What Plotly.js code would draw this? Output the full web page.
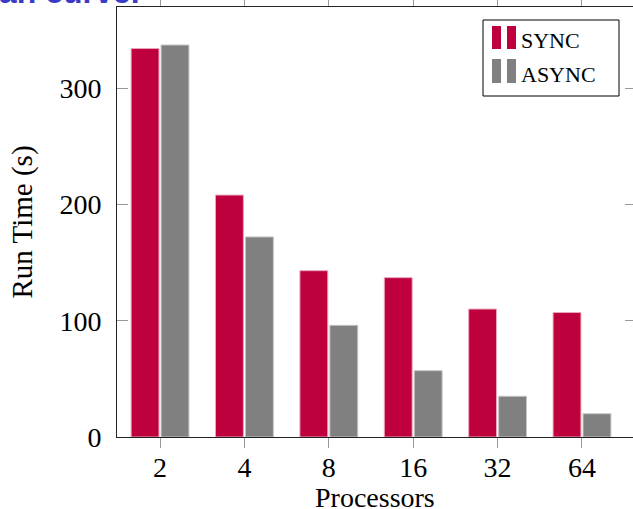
<!DOCTYPE html>
<html>
<head>
<meta charset="utf-8">
<script src="https://cdn.plot.ly/plotly-3.0.1.min.js"></script>
<style>
html,body{margin:0;padding:0;overflow:hidden;background:#fff;}
#chart{width:636px;height:509px;}
</style>
</head>
<body>
<div id="chart"></div>
<script>
const processors = ['2', '4', '8', '16', '32', '64'];
const syncTimes = [334, 208, 143, 137, 110, 107];
const asyncTimes = [337, 172, 96, 57, 35, 20];
const seriesNames = ['SYNC', 'ASYNC'];
const yTicks = [0, 100, 200, 300];
const xTitle = 'Processors';
const yTitle = 'Run Time (s)';

const RED = '#be003c';
const GRAY = '#808080';
const SERIF = '"Liberation Serif", "Times New Roman", serif';

const traces = [
  {type: 'bar', name: seriesNames[0], x: processors, y: syncTimes,
   marker: {color: RED, line: {color: '#eaa6bb', width: 1}}},
  {type: 'bar', name: seriesNames[1], x: processors, y: asyncTimes,
   marker: {color: GRAY, line: {color: '#c4c4c4', width: 1}}}
];

// legend drawn with shapes + annotations (paper coordinates)
const px = v => (v - 117) / 519;
const py = v => (437 - v) / 430;
const shapes = [
  {type: 'rect', xref: 'paper', yref: 'paper', x0: px(483), x1: px(619), y0: py(96), y1: py(20),
   line: {color: '#000', width: 1}, fillcolor: '#fff', layer: 'above'},
  {type: 'rect', xref: 'paper', yref: 'paper', x0: px(492), x1: px(501), y0: py(49), y1: py(26),
   line: {width: 0}, fillcolor: RED, layer: 'above'},
  {type: 'rect', xref: 'paper', yref: 'paper', x0: px(507), x1: px(516), y0: py(49), y1: py(26),
   line: {width: 0}, fillcolor: RED, layer: 'above'},
  {type: 'rect', xref: 'paper', yref: 'paper', x0: px(492), x1: px(501), y0: py(83), y1: py(59),
   line: {width: 0}, fillcolor: GRAY, layer: 'above'},
  {type: 'rect', xref: 'paper', yref: 'paper', x0: px(507), x1: px(516), y0: py(83), y1: py(59),
   line: {width: 0}, fillcolor: GRAY, layer: 'above'}
];

const annotations = [
  {xref: 'paper', yref: 'paper', x: px(519), y: py(40), xanchor: 'left', yanchor: 'middle',
   text: seriesNames[0], showarrow: false, font: {family: SERIF, size: 22, color: '#000'}},
  {xref: 'paper', yref: 'paper', x: px(519), y: py(74), xanchor: 'left', yanchor: 'middle',
   text: seriesNames[1], showarrow: false, font: {family: SERIF, size: 22, color: '#000'}},
  {xref: 'paper', yref: 'paper', x: px(375), y: py(480), xanchor: 'center', yanchor: 'top',
   text: xTitle, showarrow: false, font: {family: SERIF, size: 28, color: '#000'}},
  {xref: 'paper', yref: 'paper', x: px(142), y: py(12), xanchor: 'right', yanchor: 'bottom',
   text: '<b>an curve.</b>', showarrow: false,
   font: {family: '"Liberation Sans", Arial, sans-serif', size: 32, color: '#3b3bc8'}}
];

const layout = {
  width: 636, height: 509,
  margin: {l: 117, r: 0, t: 7, b: 72, pad: 0},
  paper_bgcolor: '#fff', plot_bgcolor: '#fff',
  showlegend: false,
  barmode: 'group', bargap: 0.29, bargroupgap: 0.07,
  font: {family: SERIF, size: 28, color: '#000'},
  xaxis: {
    type: 'category', categoryorder: 'array', categoryarray: processors,
    range: [-0.51, 5.64],
    showline: true, linecolor: '#222', linewidth: 1, mirror: 'ticks',
    ticks: 'outside', ticklen: 10, tickcolor: '#999', tickwidth: 1,
    showgrid: false, zeroline: false,
    ticklabelstandoff: -5,
    tickfont: {family: SERIF, size: 28}
  },
  yaxis: {
    range: [0, 369.7],
    tickvals: yTicks, ticktext: yTicks.map(String),
    showline: true, linecolor: '#222', linewidth: 1, mirror: 'ticks',
    ticks: 'inside', ticklen: 11, tickcolor: '#999', tickwidth: 1,
    showgrid: false, zeroline: false,
    ticklabelstandoff: 9,
    tickfont: {family: SERIF, size: 28},
    title: {text: yTitle, font: {family: SERIF, size: 29}, standoff: 18}
  },
  shapes: shapes,
  annotations: annotations
};

Plotly.newPlot('chart', traces, layout, {displayModeBar: false, staticPlot: true});
</script>
</body>
</html>
